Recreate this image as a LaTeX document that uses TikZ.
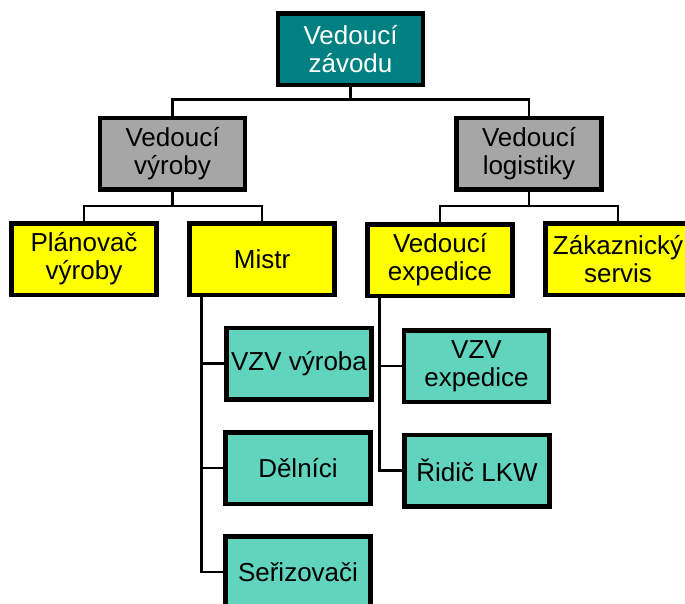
\documentclass[tikz,border=0pt]{standalone}
\usepackage{fontspec}
\setmainfont{Liberation Sans}
\definecolor{petrol}{RGB}{0,128,128}
\definecolor{sedy}{RGB}{166,166,166}
\definecolor{zluty}{RGB}{255,255,0}
\definecolor{tyrkys}{RGB}{96,212,188}

\begin{document}
\begin{tikzpicture}[x=1pt, y=-1pt,
  box/.style={draw, line width=4.5pt, minimum width=145pt, minimum height=71.5pt,
    inner sep=0pt, align=center, font=\fontsize{26}{28}\selectfont},
  conn/.style={line width=2.5pt}]
  \path[use as bounding box, fill=white] (0,0) rectangle (685,604);

  % vedeni
  \node (zavod) [box, fill=petrol, text=white] at (350.5,49.5) {Vedoucí\\závodu};
  \node (vyroba) [box, fill=sedy] at (172.5,154) {Vedoucí\\výroby};
  \node (logist) [box, fill=sedy] at (529,154) {Vedoucí\\logistiky};

  % druha uroven
  \node (planovac) [box, fill=zluty] at (84,259) {Plánovač\\výroby};
  \node (mistr) [box, fill=zluty] at (262,259) {Mistr};
  \node (expedice) [box, fill=zluty] at (440,260) {Vedoucí\\expedice};
  \node (zakaz) [box, fill=zluty] at (618,259) {Zákaznický\\servis};

  % treti uroven
  \node (vzvvyr) [box, fill=tyrkys] at (299,363.5) {VZV výroba};
  \node (delnici) [box, fill=tyrkys] at (298,468) {Dělníci};
  \node (serizov) [box, fill=tyrkys] at (298,572) {Seřizovači};
  \node (vzvexp) [box, fill=tyrkys] at (476.5,366) {VZV\\expedice};
  \node (ridic) [box, fill=tyrkys] at (477,470.5) {Řidič LKW};

  % spojnice
  \draw[conn] (zavod.south) -- ++(0,12) coordinate (z1) -| (vyroba.north);
  \draw[conn] (z1) -| (logist.north);
  \draw[conn] (vyroba.south) -- ++(0,14) coordinate (v1) -| (planovac.north);
  \draw[conn] (v1) -| (mistr.north);
  \draw[conn] (logist.south) -- ++(0,14) coordinate (l1) -| (expedice.north);
  \draw[conn] (l1) -| (zakaz.north);
  \draw[conn] (mistr.south west) ++(14,0) coordinate (m1) |- (serizov.west);
  \draw[conn] (m1) |- (vzvvyr.west);
  \draw[conn] (m1) |- (delnici.west);
  \draw[conn] (expedice.south west) ++(14,0) coordinate (e1) |- (ridic.west);
  \draw[conn] (e1) |- (vzvexp.west);
\end{tikzpicture}
\end{document}
